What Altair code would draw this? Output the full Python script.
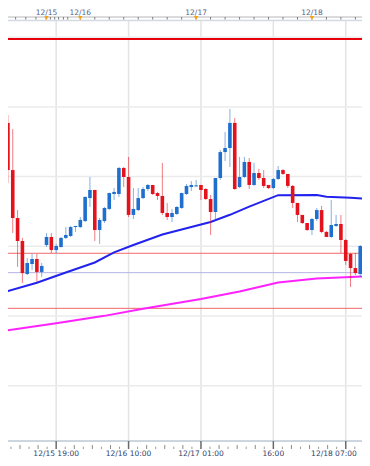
import altair as alt
import pandas as pd

# ---- hourly candles (12/15 09:00 ... 12/18 11:00) ----
opens = [118.385, 118.047, 117.703, 117.538, 117.301, 117.373, 117.409, 117.316, 117.509, 117.567,
         117.473, 117.495, 117.560, 117.574, 117.638, 117.638, 117.681, 117.846, 117.904, 117.617,
         117.681, 117.768, 117.875, 117.875, 118.062, 117.997, 117.725, 117.760, 117.846, 117.911,
         117.940, 117.882, 117.861, 117.739, 117.710, 117.732, 117.775, 117.875, 117.925, 117.930,
         117.940, 117.911, 117.839, 117.746, 117.990, 118.176, 118.205, 118.385, 117.925, 117.997,
         118.105, 117.940, 118.026, 117.990, 117.940, 117.918, 117.983, 118.047, 118.019, 117.933,
         117.811, 117.725, 117.667, 117.617, 117.696, 117.760, 117.603, 117.567, 117.646, 117.660,
         117.545, 117.445, 117.344, 117.301, 117.502]
highs = [118.442, 118.341, 117.760, 117.560, 117.416, 117.445, 117.445, 117.380, 117.595, 117.595,
         117.517, 117.567, 117.638, 117.646, 117.646, 117.710, 117.858, 117.997, 117.906, 117.703,
         117.782, 117.885, 117.918, 118.069, 118.069, 118.141, 117.918, 117.918, 117.925, 117.947,
         117.940, 117.890, 118.098, 117.811, 117.768, 117.789, 117.885, 117.947, 117.968, 117.976,
         117.940, 117.918, 117.868, 117.990, 118.191, 118.320, 118.485, 118.420, 118.141, 118.141,
         118.133, 118.098, 118.055, 118.047, 117.940, 117.990, 118.076, 118.055, 118.019, 117.940,
         117.811, 117.725, 117.667, 117.703, 117.775, 117.789, 117.610, 117.832, 117.725, 117.725,
         117.552, 117.452, 117.452, 117.509, 117.509]
lows = [117.954, 117.595, 117.352, 117.237, 117.294, 117.330, 117.244, 117.280, 117.495, 117.452,
        117.452, 117.490, 117.552, 117.567, 117.603, 117.631, 117.674, 117.782, 117.538, 117.517,
        117.667, 117.760, 117.832, 117.854, 117.925, 117.710, 117.696, 117.753, 117.839, 117.897,
        117.868, 117.832, 117.725, 117.689, 117.674, 117.725, 117.768, 117.868, 117.897, 117.925,
        117.832, 117.832, 117.581, 117.689, 117.976, 118.112, 118.069, 117.904, 117.918, 117.990,
        117.911, 117.933, 117.976, 117.918, 117.911, 117.911, 117.976, 118.012, 117.918, 117.775,
        117.674, 117.660, 117.610, 117.581, 117.681, 117.595, 117.567, 117.560, 117.638, 117.452,
        117.366, 117.208, 117.294, 117.280, 117.222]
closes = [118.047, 117.703, 117.538, 117.308, 117.380, 117.409, 117.316, 117.359, 117.567, 117.473,
          117.502, 117.560, 117.581, 117.638, 117.646, 117.689, 117.854, 117.904, 117.617, 117.689,
          117.775, 117.882, 117.890, 118.062, 117.997, 117.725, 117.768, 117.846, 117.911, 117.940,
          117.875, 117.861, 117.739, 117.710, 117.739, 117.782, 117.882, 117.933, 117.940, 117.937,
          117.904, 117.839, 117.746, 117.990, 118.176, 118.205, 118.385, 117.911, 117.997, 118.105,
          117.940, 118.026, 117.990, 117.933, 117.918, 117.983, 118.047, 118.019, 117.933, 117.811,
          117.725, 117.667, 117.617, 117.696, 117.760, 117.603, 117.567, 117.653, 117.660, 117.545,
          117.395, 117.344, 117.308, 117.502, 117.230]

# ---- moving averages (candle index, price) ----
ma_blue_idx = [-1, 0, 6, 12, 18, 22, 26, 32, 42, 46, 50, 56, 64, 66, 71, 75]
ma_blue_val = [117.164, 117.179, 117.239, 117.312, 117.384, 117.456, 117.509, 117.585, 117.674,
               117.726, 117.785, 117.867, 117.868, 117.855, 117.849, 117.838]
ma_pink_idx = [-1, 10, 20, 28, 40, 48, 56, 64, 75]
ma_pink_val = [116.892, 116.948, 117.001, 117.052, 117.122, 117.176, 117.240, 117.269, 117.285]

# ---- horizontal levels ----
grid_prices = [119.0, 118.5, 118.0, 117.5, 117.0, 116.5]
level_main = [118.987]
level_red = [117.450, 117.055]
level_blue = [117.311]

# ---- time labels ----
bottom_idx = [10, 25, 40, 55]
bottom_labels = ["12/15 19:00", "12/16 10:00", "12/17 01:00", "16:00"]
last_idx = [70]
last_label = ["12/18 07:00"]
grid_idx = [10, 25, 40, 55, 70]
day_idx = [8, 15, 39, 63]
day_labels = ["12/15", "12/16", "12/17", "12/18"]
top_tick_idx = [-0.6, 1.6, 3.7, 5.8, 7.9, 8.8, 9.7, 10.5, 11.5, 12.4] + list(range(15, 73, 3))

n = len(opens)
candles = pd.DataFrame({"i": list(range(n)), "open": opens, "high": highs,
                        "low": lows, "close": closes})
candles["dir"] = ["up" if c >= o else "down" for o, c in zip(opens, closes)]

xs = alt.Scale(domain=[-0.6048, 73.992], nice=False, zero=False)
ys = alt.Scale(domain=[115.92396, 119.26686], nice=False, zero=False)
cs = alt.Scale(domain=["up", "down"], range=["#1f6fce", "#e3121c"])

X = lambda f="i": alt.X(f"{f}:Q", scale=xs, axis=None)
Y = lambda f="p": alt.Y(f"{f}:Q", scale=ys, axis=None)

def hlines(vals, color, width):
    return alt.Chart(pd.DataFrame({"p": vals})).mark_rule(color=color, strokeWidth=width).encode(
        y=Y(), x=alt.value(0), x2=alt.value(370))

def band(ypix, color, width):
    return alt.Chart(pd.DataFrame({"k": [0]})).mark_rule(color=color, strokeWidth=width).encode(
        y=alt.value(ypix), x=alt.value(0), x2=alt.value(370))

vgrid = alt.Chart(pd.DataFrame({"i": grid_idx})).mark_rule(color="#e3e3e3", strokeWidth=1.5).encode(
    x=X(), y=alt.value(21), y2=alt.value(441))
hgrid = hlines(grid_prices, "#ebebeb", 1.5)

wicks = alt.Chart(candles).mark_rule(strokeWidth=1, opacity=0.55).encode(
    x=X(), y=Y("low"), y2=alt.Y2("high"), color=alt.Color("dir:N", scale=cs, legend=None))
bodies = alt.Chart(candles).mark_bar(size=3.6).encode(
    x=X(), y=Y("open"), y2=alt.Y2("close"), color=alt.Color("dir:N", scale=cs, legend=None))

blue_ma = alt.Chart(pd.DataFrame({"i": ma_blue_idx, "p": ma_blue_val})).mark_line(
    color="#2222ee", strokeWidth=2).encode(x=X(), y=Y())
pink_ma = alt.Chart(pd.DataFrame({"i": ma_pink_idx, "p": ma_pink_val})).mark_line(
    color="#ff22ff", strokeWidth=2).encode(x=X(), y=Y())

minor = pd.DataFrame({"k": [k for k in range(-5, 35) if k % 8 != 0]})
minor["i"] = 10 + minor["k"] * 15 / 8
minor_tall = minor[minor["k"] % 2 == 0]
minor_short = minor[minor["k"] % 2 != 0]

bt_major = alt.Chart(pd.DataFrame({"i": grid_idx})).mark_rule(color="#6a6a6a", strokeWidth=1.5).encode(
    x=X(), y=alt.value(441), y2=alt.value(449))
bt_tall = alt.Chart(minor_tall).mark_rule(color="#8a8a8a", strokeWidth=1).encode(
    x=X(), y=alt.value(445), y2=alt.value(449))
bt_short = alt.Chart(minor_short).mark_rule(color="#9a9a9a", strokeWidth=1).encode(
    x=X(), y=alt.value(446.7), y2=alt.value(449))

top_ticks = alt.Chart(pd.DataFrame({"i": top_tick_idx})).mark_rule(color="#7a7a7a", strokeWidth=1).encode(
    x=X(), y=alt.value(17), y2=alt.value(19.5))
tri = alt.Chart(pd.DataFrame({"i": day_idx})).mark_point(
    shape="triangle-down", filled=True, color="#f5a31a", opacity=1, size=20).encode(
    x=X(), y=alt.value(18))
top_text = alt.Chart(pd.DataFrame({"i": day_idx, "t": day_labels})).mark_text(
    font="DejaVu Sans", fontSize=7.5, color="#56628c", baseline="middle").encode(
    x=X(), y=alt.value(13), text="t:N")
bot_text = alt.Chart(pd.DataFrame({"i": bottom_idx, "t": bottom_labels})).mark_text(
    font="DejaVu Sans", fontSize=7.5, color="#2f3d6b", baseline="middle").encode(
    x=X(), y=alt.value(453.5), text="t:N")
bot_last = alt.Chart(pd.DataFrame({"i": last_idx, "t": last_label})).mark_text(
    font="DejaVu Sans", fontSize=7.5, color="#2f3d6b", baseline="middle", align="right", dx=11).encode(
    x=X(), y=alt.value(453.5), text="t:N")

chart = alt.layer(
    vgrid, hgrid,
    hlines(level_main, "#e8000c", 2),
    hlines(level_red, "#f06868", 1),
    hlines(level_blue, "#b4b4e6", 1),
    pink_ma, blue_ma,
    wicks, bodies,
    band(17, "#b8b8b8", 1), band(20.5, "#d3dae4", 1.5), band(441, "#cdd5df", 2),
    top_ticks, tri, top_text,
    bt_major, bt_tall, bt_short, bot_text, bot_last,
).properties(
    width=370, height=466, autosize="none",
    padding={"left": -8, "top": -8, "right": -8, "bottom": -8},
).configure_view(stroke=None).configure(background="white")

chart.save("out.html", embed_options={"renderer": "svg", "actions": False})
